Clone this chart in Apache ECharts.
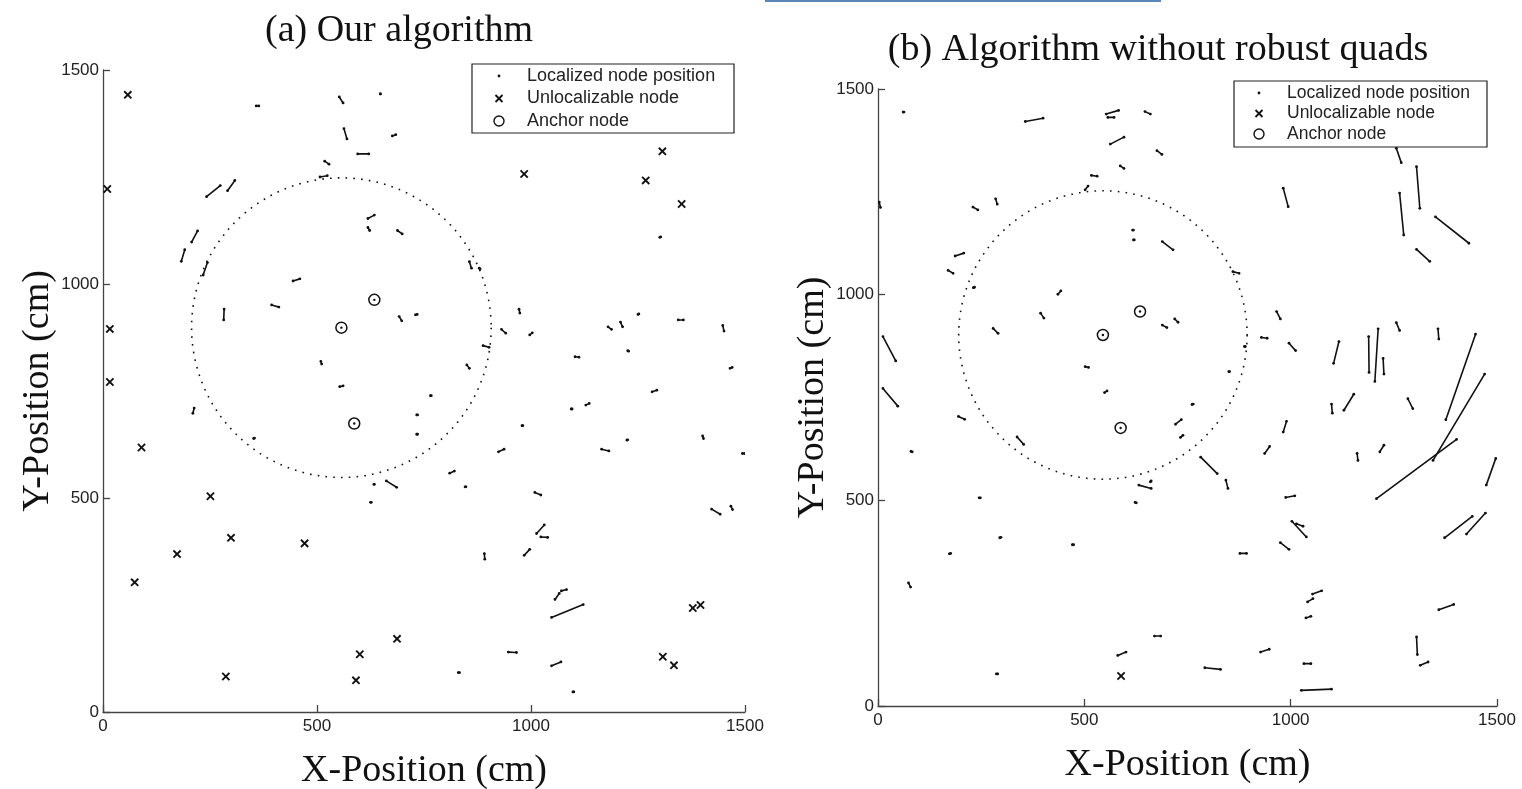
<!DOCTYPE html>
<html>
<head>
<meta charset="utf-8">
<script src="https://cdn.jsdelivr.net/npm/echarts@6/dist/echarts.min.js"></script>
<style>
  html, body { margin: 0; padding: 0; background: #fff; }
  #chart { width: 1522px; height: 789px; }
</style>
</head>
<body>
<div id="chart"></div>
<script>
// ---- data (cm) ----
var rangeRadius = 350;

// (a) localized node estimates, each [x1, y1, x2, y2]
var segmentsA = [
  [358,1416,364,1416],[552,1437,561,1423],[648,1444,648,1444],[563,1363,570,1339],
  [676,1346,684,1349],[595,1304,621,1304],[518,1287,528,1280],[507,1250,524,1253],
  [242,1204,274,1230],[291,1218,308,1242],[619,1153,634,1161],[619,1132,623,1125],
  [688,1125,699,1117],[207,1098,221,1124],[183,1053,191,1080],[234,1021,244,1050],
  [444,1007,460,1012],[394,951,411,946],[282,916,283,941],[692,924,698,914],
  [730,928,734,929],[509,819,511,813],[553,760,561,762],
  [1301,1109,1303,1110],[856,1052,861,1037],[879,1037,881,1035],[972,941,974,932],
  [931,894,941,885],[997,881,1003,886],[1180,900,1188,894],[1209,911,1214,900],
  [1250,929,1252,930],[1344,916,1356,916],[1448,903,1451,890],[888,856,902,852],
  [1103,830,1112,829],[1226,844,1228,843],[1465,803,1470,805],[850,811,856,803],
  [765,739,767,739],[1283,748,1294,752],[1094,708,1096,708],[1128,717,1136,721],
  [979,669,981,669],[1224,635,1226,636],[1401,645,1403,639],[1165,614,1182,610],
  [924,608,937,614],[1494,604,1499,604],[810,558,821,563],[846,526,848,526],
  [1009,513,1023,507],[1422,474,1442,462],[1467,481,1471,473],[1013,417,1031,437],
  [1023,409,1039,408],[984,366,997,380],[891,370,892,357],[1056,263,1066,277],
  [1071,283,1083,286],[1048,221,1122,251],[947,140,966,139],[1048,108,1070,117],
  [830,92,833,92],[1098,47,1100,47],
  [210,698,213,710],[352,639,354,640],[733,694,735,694],[733,649,735,649],
  [633,532,634,532],[662,540,686,525],[625,490,627,490]
];
var unlocalizableA = [
  [58,1442],[10,1222],[16,895],[16,771],[90,618],[251,504],[299,407],[173,369],
  [471,394],[74,303],[687,171],[600,135],[287,83],[591,74],[984,1257],[1307,1310],
  [1268,1242],[1352,1187],[1378,243],[1396,250],[1308,129],[1334,109]
];
var anchorsA = [[557,898],[634,963],[587,674]];

// (b) without robust quads
var segmentsB = [
  [61,1444,63,1444],[357,1421,400,1429],[553,1439,583,1448],[557,1431,572,1431],
  [647,1445,660,1439],[563,1366,596,1383],[676,1350,688,1341],[587,1313,596,1307],
  [517,1290,531,1288],[502,1255,509,1264],[230,1213,242,1206],[285,1233,289,1220],
  [617,1157,619,1157],[619,1133,621,1133],[689,1129,715,1109],[187,1094,208,1101],
  [170,1059,182,1052],[231,1017,234,1018],[436,1001,443,1009],[394,955,402,943],
  [279,918,291,906],[689,926,700,920],[719,941,727,933],[502,825,510,823],
  [549,762,555,766],[12,898,43,839],[12,772,48,729],[195,704,210,697],
  [80,619,83,618],[337,654,353,636],[721,685,735,696],[733,653,739,658],
  [245,506,248,506],[632,537,662,529],[660,545,662,547],[623,495,626,494],
  [295,409,298,410],[173,370,176,371],[471,392,474,392],[74,299,79,289],
  [670,170,685,170],[581,123,601,131],[287,78,290,78],[3,1225,6,1212],
  [1256,1356,1268,1321],[1305,1311,1313,1210],[1264,1247,1274,1145],[1351,1189,1432,1125],
  [1305,1110,1337,1081],[982,1259,994,1214],[966,959,975,941],[929,896,943,894],
  [996,882,1012,864],[1256,932,1264,913],[1357,917,1359,892],[1104,833,1117,886],
  [1189,898,1190,811],[1212,917,1204,789],[1224,845,1226,807],[1448,904,1376,696],
  [1470,807,1345,597],[860,1056,875,1052],[888,874,890,874],[850,813,852,813],
  [1208,504,1402,648],[1129,719,1153,758],[1099,734,1101,712],[1284,747,1296,723],
  [982,666,990,692],[937,614,949,631],[1216,618,1226,634],[1161,614,1163,597],
  [782,605,822,565],[843,549,848,529],[988,507,1010,511],[1474,537,1497,602],
  [1373,409,1440,461],[1426,418,1472,469],[1003,449,1038,411],[1014,443,1030,437],
  [975,397,996,381],[877,371,893,371],[1053,272,1075,280],[1041,253,1054,261],
  [1037,214,1049,218],[1359,234,1395,247],[1305,168,1307,125],[927,131,948,138],
  [1314,99,1333,107],[792,93,830,89],[1032,103,1049,103],[1026,38,1099,41],
  [761,733,764,734]
];
var unlocalizableB = [[589,73]];
var anchorsB = [[545,902],[635,959],[588,676]];

var legendNames = ['Localized node position', 'Unlocalizable node', 'Anchor node'];
var titles = ['(a) Our algorithm', '(b) Algorithm without robust quads'];

// ---- drawing ----
var INK = '#111';
var chart = echarts.init(document.getElementById('chart'));

function renderSegment(params, api) {
  var p1 = api.coord([api.value(0), api.value(1)]);
  var p2 = api.coord([api.value(2), api.value(3)]);
  return {
    type: 'group',
    children: [
      { type: 'line', shape: { x1: p1[0], y1: p1[1], x2: p2[0], y2: p2[1] },
        style: { stroke: INK, lineWidth: 1.6, lineCap: 'round' } },
      { type: 'circle', shape: { cx: p1[0], cy: p1[1], r: 1.4 }, style: { fill: INK } },
      { type: 'circle', shape: { cx: p2[0], cy: p2[1], r: 1.4 }, style: { fill: INK } }
    ]
  };
}

function renderCross(params, api) {
  var p = api.coord([api.value(0), api.value(1)]);
  var h = 3.6;
  return {
    type: 'group',
    children: [
      { type: 'line', shape: { x1: p[0] - h, y1: p[1] - h, x2: p[0] + h, y2: p[1] + h },
        style: { stroke: INK, lineWidth: 1.9 } },
      { type: 'line', shape: { x1: p[0] - h, y1: p[1] + h, x2: p[0] + h, y2: p[1] - h },
        style: { stroke: INK, lineWidth: 1.9 } }
    ]
  };
}

function renderAnchor(params, api) {
  var p = api.coord([api.value(0), api.value(1)]);
  return {
    type: 'group',
    children: [
      { type: 'circle', shape: { cx: p[0], cy: p[1], r: 5.5 },
        style: { fill: 'none', stroke: INK, lineWidth: 1.5 } },
      { type: 'circle', shape: { cx: p[0], cy: p[1], r: 1.2 }, style: { fill: INK } }
    ]
  };
}

function renderRange(params, api) {
  var c = api.coord([api.value(0), api.value(1)]);
  var r = api.size([api.value(2), api.value(2)]);
  return {
    type: 'circle',
    shape: { cx: c[0], cy: c[1], r: (r[0] + r[1]) / 2 },
    style: { fill: 'none', stroke: INK, lineWidth: 1.6, lineDash: [1.6, 6.2] }
  };
}

function plainLabel(v) { return String(v); }

function makeX(gi, nameGap) {
  return {
    gridIndex: gi, type: 'value', min: 0, max: 1500, interval: 500,
    name: 'X-Position (cm)', nameLocation: 'middle', nameGap: nameGap,
    nameTextStyle: { fontFamily: 'Liberation Serif', fontSize: 38, color: INK },
    axisLine: { lineStyle: { color: '#444', width: 1.3 } },
    axisTick: { inside: true, length: 7, lineStyle: { color: '#444', width: 1.3 } },
    axisLabel: { fontFamily: 'Liberation Sans', fontSize: 17, color: '#222', margin: 6, formatter: plainLabel },
    splitLine: { show: false }
  };
}
function makeY(gi, nameGap) {
  return {
    gridIndex: gi, type: 'value', min: 0, max: 1500, interval: 500,
    name: 'Y-Position (cm)', nameLocation: 'middle', nameGap: nameGap,
    nameTextStyle: { fontFamily: 'Liberation Serif', fontSize: 38, color: INK },
    axisLine: { show: true, lineStyle: { color: '#444', width: 1.3 } },
    axisTick: { show: true, inside: true, length: 7, lineStyle: { color: '#444', width: 1.3 } },
    axisLabel: { fontFamily: 'Liberation Sans', fontSize: 17, color: '#222', margin: 4, formatter: plainLabel },
    splitLine: { show: false }
  };
}

function panelSeries(idx, segs, unloc, anchors) {
  return [
    { type: 'custom', name: legendNames[0], xAxisIndex: idx, yAxisIndex: idx,
      renderItem: renderSegment, data: segs, encode: { x: [0, 2], y: [1, 3] }, clip: true, silent: true },
    { type: 'custom', name: legendNames[1], xAxisIndex: idx, yAxisIndex: idx,
      renderItem: renderCross, data: unloc, encode: { x: 0, y: 1 }, silent: true },
    { type: 'custom', name: legendNames[2], xAxisIndex: idx, yAxisIndex: idx,
      renderItem: renderAnchor, data: anchors, encode: { x: 0, y: 1 }, silent: true },
    { type: 'custom', name: 'range', xAxisIndex: idx, yAxisIndex: idx,
      renderItem: renderRange, data: [[anchors[0][0], anchors[0][1], rangeRadius]],
      encode: { x: 0, y: 1 }, silent: true }
  ];
}

function legendBox(x, y, w, h, rowGap, iconX, textX, fontSize) {
  var rows = [y + 12, y + 12 + rowGap, y + 12 + 2 * rowGap];
  var els = [
    { type: 'rect', shape: { x: x, y: y, width: w, height: h },
      style: { fill: '#fff', stroke: '#222', lineWidth: 1.2 }, z: 100 },
    { type: 'circle', shape: { cx: iconX, cy: rows[0], r: 1.4 }, style: { fill: INK }, z: 101 },
    { type: 'line', shape: { x1: iconX - 3.5, y1: rows[1] - 3.5, x2: iconX + 3.5, y2: rows[1] + 3.5 },
      style: { stroke: INK, lineWidth: 1.8 }, z: 101 },
    { type: 'line', shape: { x1: iconX - 3.5, y1: rows[1] + 3.5, x2: iconX + 3.5, y2: rows[1] - 3.5 },
      style: { stroke: INK, lineWidth: 1.8 }, z: 101 },
    { type: 'circle', shape: { cx: iconX, cy: rows[2], r: 5 },
      style: { fill: 'none', stroke: INK, lineWidth: 1.4 }, z: 101 }
  ];
  legendNames.forEach(function (n, i) {
    els.push({ type: 'text', x: textX, y: rows[i], z: 101,
      style: { text: n, fill: '#222', font: fontSize + 'px "Liberation Sans"', verticalAlign: 'middle' } });
  });
  return els;
}

var option = {
  backgroundColor: '#fff',
  animation: false,
  title: [
    { text: titles[0], left: 394, top: 7, textAlign: 'center',
      textStyle: { fontFamily: 'Liberation Serif', fontSize: 38, fontWeight: 'normal', color: INK } },
    { text: titles[1], left: 1153, top: 26, textAlign: 'center',
      textStyle: { fontFamily: 'Liberation Serif', fontSize: 38, fontWeight: 'normal', color: INK } }
  ],
  grid: [
    { left: 103, top: 70, width: 642, height: 642, containLabel: false, outerBoundsMode: 'none' },
    { left: 878, top: 89, width: 619, height: 617, containLabel: false, outerBoundsMode: 'none' }
  ],
  xAxis: [makeX(0, 40), makeX(1, 40)],
  yAxis: [makeY(0, 43), makeY(1, 44)],
  series: panelSeries(0, segmentsA, unlocalizableA, anchorsA)
    .concat(panelSeries(1, segmentsB, unlocalizableB, anchorsB)),
  graphic: [
    { type: 'line', shape: { x1: 765, y1: 1, x2: 1161, y2: 1 },
      style: { stroke: '#5b86ba', lineWidth: 2 } }
  ].concat(legendBox(472, 64, 262, 69, 22.5, 499, 527, 18))
   .concat(legendBox(1234, 81, 253, 66, 20.5, 1259, 1287, 17.5))
};

chart.setOption(option);
</script>
</body>
</html>
